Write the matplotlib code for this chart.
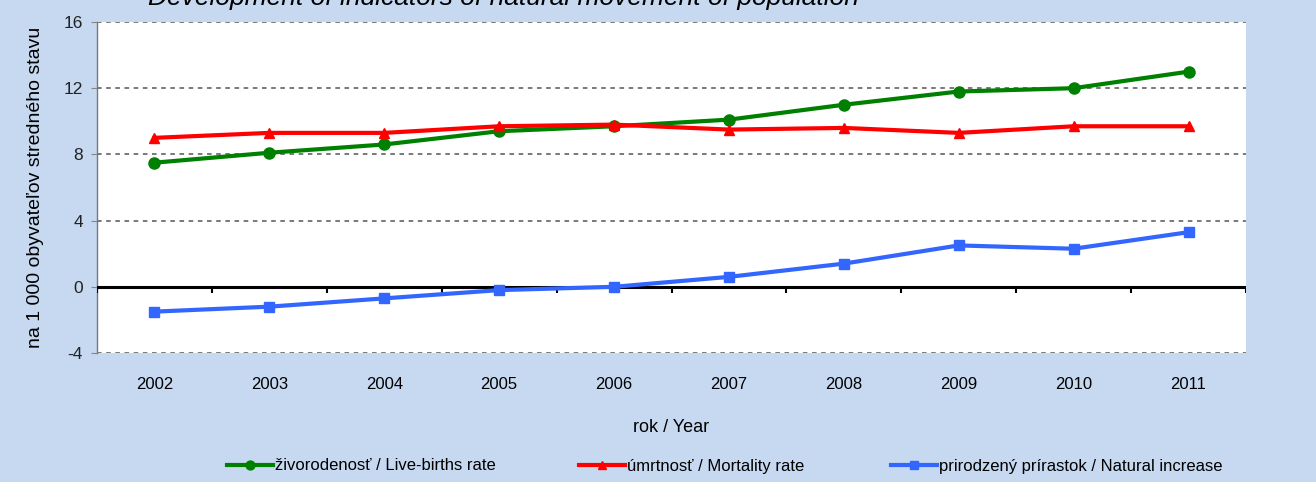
import matplotlib
matplotlib.use("Agg")
import matplotlib.pyplot as plt
import numpy as np

plt.rcParams['font.family'] = ['Liberation Sans', 'DejaVu Sans']

years = ['2002', '2003', '2004', '2005', '2006', '2007', '2008', '2009', '2010', '2011']
live_births = [7.5, 8.1, 8.6, 9.4, 9.7, 10.1, 11.0, 11.8, 12.0, 13.0]
mortality = [9.0, 9.3, 9.3, 9.7, 9.8, 9.5, 9.6, 9.3, 9.7, 9.7]
natural_inc = [-1.5, -1.2, -0.7, -0.2, 0.0, 0.6, 1.4, 2.5, 2.3, 3.3]
yticks = [-4, 0, 4, 8, 12, 16]

bg = '#C6D9F1'
fig = plt.figure(figsize=(13.16, 4.82), dpi=100, facecolor=bg)
ax = fig.add_axes([97/1316, 1-353/482, (1246-97)/1316, (353-22)/482])
ax.set_facecolor('white')

x = np.arange(len(years))
l1, = ax.plot(x, live_births, color='#008000', lw=3, marker='o', ms=8, label='živorodenosť / Live-births rate', zorder=4)
l2, = ax.plot(x, mortality, color='#FF0000', lw=3, marker='^', ms=7, label='úmrtnosť / Mortality rate', zorder=4)
l3, = ax.plot(x, natural_inc, color='#3366FF', lw=3, marker='s', ms=7.5, label='prirodzený prírastok / Natural increase', zorder=4)

ax.set_xlim(-0.5, len(years) - 0.5)
ax.set_ylim(-4, 16)
ax.set_yticks(yticks)
ax.set_yticklabels([str(v) for v in yticks], fontsize=12.5, color='#222222')
ax.tick_params(axis='y', length=4, color='#888888', pad=6)
for v in yticks:
    if v != 0:
        ax.axhline(v, color='#555555', lw=1.1, ls=(0, (3, 3)), zorder=1)
ax.axhline(0, color='black', lw=2.2, zorder=3)
bounds = np.arange(len(years) + 1) - 0.5
ax.vlines(bounds, -0.35, 0, color='black', lw=1.5, zorder=3)

ax.set_xticks(x)
ax.set_xticklabels(years, fontsize=12)
ax.tick_params(axis='x', length=0, pad=17)

for s in ['top', 'right', 'bottom']:
    ax.spines[s].set_visible(False)
ax.spines['left'].set_color('#777777')
ax.spines['left'].set_linestyle((0, (1, 1)))
ax.spines['left'].set_linewidth(1)

ax.set_xlabel('rok / Year', fontsize=13, labelpad=20)
ax.set_ylabel('na 1 000 obyvateľov stredného stavu', fontsize=14, labelpad=14)

fig.text(503/1316, 1-5/482, 'Development of indicators of natural movement of population',
         ha='center', va='baseline', fontsize=19, style='italic')

for line, xpos in [(l1, 228), (l2, 580), (l3, 892)]:
    leg = fig.legend(handles=[line], loc='center left', bbox_to_anchor=((xpos - 8)/1316, 1-466/482),
                     frameon=False, fontsize=12, handlelength=2.8, handletextpad=0.1,
                     markerscale=0.8, borderpad=0.4, borderaxespad=0)

fig.savefig('out.png', dpi=100, facecolor=bg)
